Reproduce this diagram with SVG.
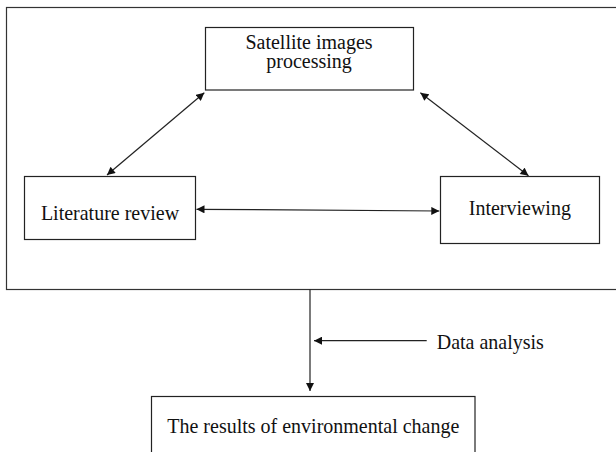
<svg xmlns="http://www.w3.org/2000/svg" width="616" height="452" viewBox="0 0 616 452">
  <style>
    .box { fill: #ffffff; stroke: #222222; stroke-width: 1.2; }
    .frame { fill: none; stroke: #333333; stroke-width: 1.2; }
    .lbl { font-family: "Liberation Serif", "Times New Roman", serif; font-size: 20px; fill: #111111; text-anchor: middle; }
    .lbl-l { font-family: "Liberation Serif", "Times New Roman", serif; font-size: 20px; fill: #111111; text-anchor: start; }
    .conn { fill: none; stroke: #222222; stroke-width: 1.2; }
  </style>
  <defs>
    <marker id="ah" viewBox="0 0 10 10" refX="10" refY="5" markerWidth="9" markerHeight="8" markerUnits="userSpaceOnUse" orient="auto-start-reverse">
      <path d="M0,0 L10,5 L0,10 Z" fill="#111111"/>
    </marker>
  </defs>
  <rect width="616" height="452" fill="#ffffff"/>

  <g id="frame">
    <rect class="frame" x="6.5" y="7.5" width="625" height="282"/>
  </g>

  <g id="connectors">
    <line class="conn" x1="107" y1="175" x2="204.3" y2="92.7" marker-start="url(#ah)" marker-end="url(#ah)"/>
    <line class="conn" x1="420.4" y1="92.7" x2="528.5" y2="175.7" marker-start="url(#ah)" marker-end="url(#ah)"/>
    <line class="conn" x1="196.5" y1="209.3" x2="439.3" y2="211" marker-start="url(#ah)" marker-end="url(#ah)"/>
    <line class="conn" x1="310" y1="289.5" x2="310" y2="391" marker-end="url(#ah)"/>
    <line class="conn" x1="426.7" y1="340.7" x2="314" y2="340.7" marker-end="url(#ah)"/>
  </g>

  <g id="satellite">
    <rect class="box" x="205.5" y="27.5" width="208" height="62.5"/>
    <text class="lbl" transform="translate(309,48.6) scale(1,1.08)">Satellite images</text>
    <text class="lbl" transform="translate(309,68.4) scale(1,1.08)">processing</text>
  </g>

  <g id="literature">
    <rect class="box" x="24.5" y="176.5" width="171" height="63"/>
    <text class="lbl" transform="translate(110,220) scale(1,1.1)">Literature review</text>
  </g>

  <g id="interviewing">
    <rect class="box" x="440.5" y="176.5" width="159" height="67"/>
    <text class="lbl" transform="translate(519.8,215) scale(1,1.1)">Interviewing</text>
  </g>

  <g id="data-analysis">
    <text class="lbl-l" transform="translate(436.7,349.3) scale(1,1.1)">Data analysis</text>
  </g>

  <g id="results">
    <rect class="box" x="151.5" y="396.5" width="323.5" height="70"/>
    <text class="lbl" transform="translate(313.3,432.7) scale(1,1.1)">The results of environmental change</text>
  </g>
</svg>
